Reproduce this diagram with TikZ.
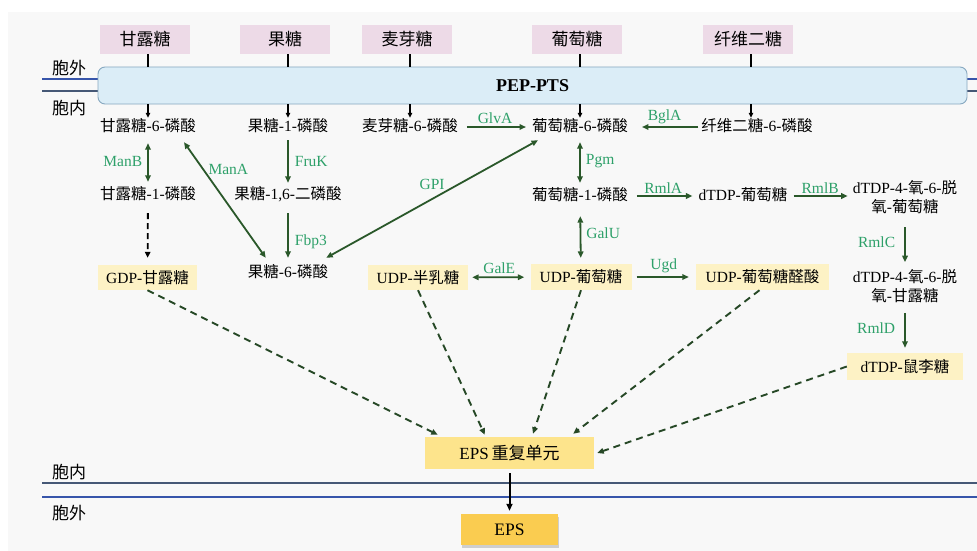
\documentclass[tikz,border=0pt]{standalone}
\usepackage{fontspec}
\setmainfont{Liberation Serif}
\newfontfamily\cjk{Noto Sans CJK SC}
\newcommand\zh[1]{{\cjk #1}}
\usetikzlibrary{arrows.meta,shadows,calc}
\definecolor{bgc}{RGB}{248,248,248}
\definecolor{pinkc}{RGB}{237,218,231}
\definecolor{pepc}{RGB}{219,237,247}
\definecolor{pepb}{RGB}{135,168,192}
\definecolor{yc}{RGB}{253,242,197}
\definecolor{eunitc}{RGB}{253,228,140}
\definecolor{epsc}{RGB}{250,204,80}
\definecolor{garrc}{RGB}{42,88,42}
\definecolor{dgc}{RGB}{38,72,38}
\definecolor{enzc}{RGB}{45,160,105}
\definecolor{memblue}{RGB}{55,85,170}
\definecolor{memdark}{RGB}{70,88,118}
\tikzset{
  txt/.style={font=\fontsize{15.5}{19}\selectfont, inner sep=0pt, text height=11pt, text depth=3pt},
  txttwo/.style={font=\fontsize{15.5}{19}\selectfont, inner sep=0pt, align=center},
  pinkbox/.style={fill=pinkc, minimum width=90pt, minimum height=29pt, inner sep=0pt, font=\fontsize{17}{20}\selectfont},
  pepbar/.style={fill=pepc, draw=pepb, line width=0.9pt, rounded corners=7pt, minimum width=869pt, minimum height=37pt, inner sep=0pt, font=\bfseries\fontsize{18}{20}\selectfont},
  ybox/.style={fill=yc, minimum height=26pt, inner sep=0pt, font=\fontsize{15.5}{19}\selectfont},
  garr/.style={draw=garrc, line width=1.8pt, ->},
  dasharr/.style={draw=dgc, line width=1.9pt, dash pattern=on 7pt off 5pt, ->},
  karr/.style={draw=black, line width=1.3pt, -{Triangle[length=5pt,width=4.5pt]}},
  enz/.style={text=enzc, font=\fontsize{15.5}{17}\selectfont, inner sep=1pt},
  mlab/.style={font=\fontsize{17}{20}\selectfont, inner sep=0pt},
}
\begin{document}
\begin{tikzpicture}[x=1pt,y=-1pt, >={Triangle[length=6.5pt,width=5.5pt]}]
\useasboundingbox (0,0) rectangle (977,551);
\fill[white] (0,0) rectangle (977,551);
\fill[bgc] (8,12) rectangle (977,551);

% membranes
\draw[memblue, line width=1.3pt] (42,79) -- (100,79);
\draw[memdark, line width=1.3pt] (42,91) -- (100,91);
\draw[memblue, line width=1.3pt] (965,79) -- (977,79);
\draw[memdark, line width=1.3pt] (965,91) -- (977,91);
\draw[memdark, line width=1.3pt] (42,483) -- (977,483);
\draw[memblue, line width=1.3pt] (42,497) -- (977,497);

\node[mlab] (outT) at (69,68) {\zh{胞外}};
\node[mlab] (inT) at (69,108) {\zh{胞内}};
\node[mlab] (inB) at (69,472) {\zh{胞内}};
\node[mlab] (outB) at (69,513) {\zh{胞外}};

% sugars outside
\node[pinkbox] (sman) at (145,39.5) {\zh{甘露糖}};
\node[pinkbox] (sfru) at (285,39.5) {\zh{果糖}};
\node[pinkbox] (smal) at (407,39.5) {\zh{麦芽糖}};
\node[pinkbox] (sglc) at (577,39.5) {\zh{葡萄糖}};
\node[pinkbox] (scel) at (748,39.5) {\zh{纤维二糖}};

\node[pepbar] (pep) at (532.5,85.5) {PEP-PTS};

% row 1
\node[txt] (m6p) at (148,127) {\zh{甘露糖}-6-\zh{磷酸}};
\node[txt] (f1p) at (288,127) {\zh{果糖}-1-\zh{磷酸}};
\node[txt] (mal6p) at (410,127) {\zh{麦芽糖}-6-\zh{磷酸}};
\node[txt] (g6p) at (580,127) {\zh{葡萄糖}-6-\zh{磷酸}};
\node[txt] (cel6p) at (757,127) {\zh{纤维二糖}-6-\zh{磷酸}};

% row 2
\node[txt] (m1p) at (148,195) {\zh{甘露糖}-1-\zh{磷酸}};
\node[txt] (f16p) at (288,195) {\zh{果糖}-1,6-\zh{二磷酸}};
\node[txt] (g1p) at (580,196) {\zh{葡萄糖}-1-\zh{磷酸}};
\node[txt] (dtdpg) at (743,196) {dTDP-\zh{葡萄糖}};
\node[txttwo] (keto) at (905,197.5) {dTDP-4-\zh{氧}-6-\zh{脱}\\\zh{氧}-\zh{葡萄糖}};

% row 3
\node[ybox, minimum width=99pt, minimum height=25pt] (gdpm) at (147.5,277.5) {GDP-\zh{甘露糖}};
\node[txt] (f6p) at (288,273) {\zh{果糖}-6-\zh{磷酸}};
\node[ybox, minimum width=100pt, minimum height=25pt] (udpgal) at (418,277.5) {UDP-\zh{半乳糖}};
\node[ybox, minimum width=101pt] (udpg) at (581,277) {UDP-\zh{葡萄糖}};
\node[ybox, minimum width=133pt] (udpga) at (762.5,277) {UDP-\zh{葡萄糖醛酸}};
\node[txttwo] (keto2) at (905,286.5) {dTDP-4-\zh{氧}-6-\zh{脱}\\\zh{氧}-\zh{甘露糖}};
\node[ybox, minimum width=116pt, minimum height=27pt] (rha) at (905,366.5) {dTDP-\zh{鼠李糖}};

% EPS
\node[fill=eunitc, minimum width=169pt, minimum height=32pt, inner sep=0pt, font=\fontsize{17}{20}\selectfont] (eunit) at (509.5,453) {EPS\,\zh{重复单元}};
\node[fill=epsc, minimum width=97pt, minimum height=31pt, inner sep=0pt, font=\fontsize{17.5}{20}\selectfont, drop shadow={shadow xshift=1pt, shadow yshift=-2.5pt, opacity=0.35}] (eps) at (509.5,529.5) {EPS};

% transport lines
\foreach \sa/\sb in {sman/m6p, sfru/f1p, smal/mal6p, sglc/g6p, scel/cel6p}{
  \draw[line width=1.3pt] ([xshift=3pt]\sa.south) -- ([xshift=3pt]\sa.south |- pep.north);
  \draw[karr, shorten >=2pt] ([xshift=3pt]\sa.south |- pep.south) -- ([xshift=3pt]\sa.south |- \sb.north);
}

% enzymatic steps
\draw[garr, shorten <=9pt, shorten >=6pt] (mal6p) -- node[enz, above=1pt]{GlvA} (g6p);
\draw[garr, shorten <=3pt, shorten >=14pt] (cel6p) -- node[enz, above=1pt]{BglA} (g6p);
\draw[garr, <->, shorten <=9pt, shorten >=6pt] (m6p) -- node[enz, left=4pt]{ManB} (m1p);
\draw[garr, shorten <=6pt, shorten >=5pt] (f1p) -- node[enz, right=5pt]{FruK} (f16p);
\draw[garr, shorten <=11pt, shorten >=8pt] (f16p) -- node[enz, right=5pt, pos=0.62]{Fbp3} (f6p);
\draw[karr, line width=1.8pt, dash pattern=on 6pt off 4pt, -{Triangle[length=6pt,width=5.5pt]}, shorten <=11pt, shorten >=7pt] (m1p) -- (gdpm);
\draw[garr, <->] ([xshift=-12pt,yshift=-8pt]m6p.south east) -- node[enz, right=3pt, pos=0.24]{ManA} ([xshift=18pt,yshift=8pt]f6p.north west);
\draw[garr, <->] ([xshift=6pt,yshift=-6pt]g6p.south west) -- node[enz, above=7pt]{GPI} ([xshift=-2pt,yshift=8pt]f6p.north east);
\draw[garr, <->, shorten <=8pt, shorten >=6pt] (g6p) -- node[enz, right=4pt]{Pgm} (g1p);
\draw[garr, <->, shorten <=13pt, shorten >=6pt] (g1p) -- node[enz, right=4pt]{GalU} (udpg);
\draw[garr, <->, shorten <=4pt, shorten >=6pt] (udpgal) -- node[enz, above=2pt]{GalE} (udpg);
\draw[garr, shorten <=5pt, shorten >=7pt] (udpg) -- node[enz, above=2pt]{Ugd} (udpga);
\draw[garr, shorten <=9pt, shorten >=6pt] (g1p) -- node[enz, above=1pt]{RmlA} (dtdpg);
\draw[garr, shorten <=6pt, shorten >=5pt] (dtdpg.east) -- node[enz, above=1pt]{RmlB} (dtdpg.east -| keto.west);
\draw[garr, shorten <=13pt, shorten >=7.5pt] (keto) -- node[enz, left=8pt]{RmlC} (keto2);
\draw[garr, shorten <=9.5pt, shorten >=5pt] (keto2) -- node[enz, left=8pt]{RmlD} (rha);

% to EPS repeat unit
\draw[dasharr] (gdpm.south) -- ([xshift=13pt,yshift=2pt]eunit.north west);
\draw[dasharr] (udpgal.south) -- ([xshift=60pt,yshift=2pt]eunit.north west);
\draw[dasharr] (udpg.south) -- ([xshift=23.5pt,yshift=3pt]eunit.north);
\draw[dasharr] ([xshift=-3pt]udpga.south) -- ([xshift=-21pt,yshift=3pt]eunit.north east);
\draw[dasharr] (rha.west) -- ([xshift=3pt]eunit.east);

\draw[karr, line width=2pt, -{Triangle[length=7pt,width=6pt]}, shorten <=4pt, shorten >=3pt] (eunit) -- (eps);
\end{tikzpicture}
\end{document}
